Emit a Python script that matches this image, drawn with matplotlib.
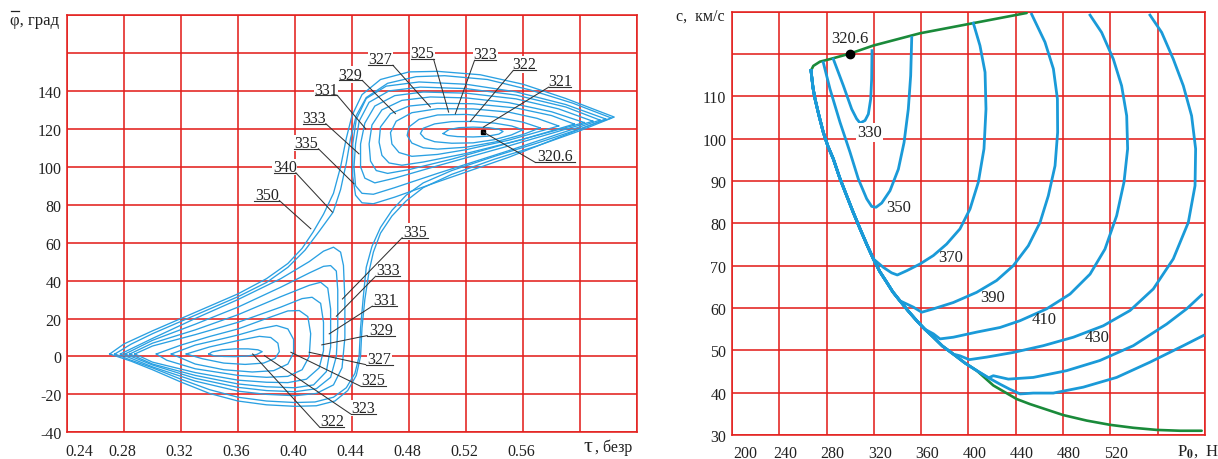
import numpy as np
import matplotlib
matplotlib.use("Agg")
import matplotlib.pyplot as plt
from matplotlib.transforms import ScaledTranslation
from matplotlib.lines import Line2D

plt.rcParams['font.family'] = ['Liberation Serif', 'DejaVu Serif']
plt.rcParams['mathtext.fontset'] = 'stix'

RED = "#e3211e"
BLUE_L = "#2aa0e2"
BLUE_R = "#1a9ad8"
GREEN = "#1a8a3a"

# ---------------- left chart: contour lines (tau, phi) ----------------
# lower basin
low322 = [(0.3395, 1.3), (0.343, 0.4), (0.350, 0.0), (0.358, -0.1), (0.366, 0.2), (0.373, 1.0), (0.377, 2.5),
          (0.374, 3.5), (0.367, 4.0), (0.358, 4.0), (0.349, 3.5), (0.342, 2.4), (0.3395, 1.3)]
low323 = [(0.3237, 1.3), (0.34, 5.0), (0.36, 8.4), (0.375, 10.6), (0.383, 10.0), (0.388, 7.0), (0.389, 2.5),
          (0.386, -1.0), (0.378, -3.5), (0.365, -4.2), (0.35, -3.5), (0.335, -1.2), (0.3237, 1.3)]
low325 = [(0.3132, 1.3), (0.33, 6.0), (0.35, 9.5), (0.36, 11.3), (0.375, 14.5), (0.387, 16.3), (0.395, 14.5),
          (0.399, 9.0), (0.399, 2.0), (0.395, -4.0), (0.385, -7.5), (0.37, -8.2), (0.35, -7.0), (0.33, -4.0),
          (0.3132, 1.3)]
low327 = [(0.3027, 1.3), (0.32, 6.0), (0.34, 10.5), (0.36, 14.5), (0.38, 20.0), (0.395, 24.0), (0.403, 24.2),
          (0.409, 21.0), (0.411, 12.0), (0.410, 0.0), (0.405, -7.0), (0.395, -10.5), (0.38, -11.0),
          (0.36, -10.0), (0.33, -6.5), (0.31, -2.0), (0.3027, 1.3)]
low329 = [(0.2876, 1.3), (0.30, 5.5), (0.33, 11.5), (0.36, 18.0), (0.39, 26.0), (0.405, 30.5), (0.412, 31.2),
          (0.418, 28.0), (0.420, 18.0), (0.420, 3.0), (0.417, -6.0), (0.408, -12.0), (0.395, -13.8),
          (0.38, -13.6), (0.36, -12.5), (0.33, -8.5), (0.30, -3.0), (0.2876, 1.3)]
low331 = [(0.2841, 1.3), (0.30, 7.0), (0.33, 14.0), (0.36, 22.0), (0.39, 31.5), (0.41, 37.5), (0.418, 39.1),
          (0.423, 36.0), (0.425, 25.0), (0.425, 5.0), (0.422, -8.0), (0.413, -15.0), (0.40, -16.5),
          (0.38, -16.0), (0.36, -14.5), (0.33, -10.0), (0.30, -4.0), (0.2841, 1.3)]
low333 = [(0.2808, 1.3), (0.30, 8.5), (0.33, 17.0), (0.36, 26.0), (0.39, 36.5), (0.41, 44.0), (0.42, 47.5),
          (0.425, 47.9), (0.429, 45.0), (0.430, 35.0), (0.430, 15.0), (0.429, 0.0), (0.425, -11.0),
          (0.415, -17.0), (0.40, -18.6), (0.38, -18.0), (0.36, -16.3), (0.33, -11.5), (0.30, -4.5),
          (0.2808, 1.3)]
low335 = [(0.2775, 1.3), (0.30, 9.5), (0.33, 20.0), (0.36, 30.0), (0.39, 41.0), (0.41, 50.0), (0.42, 55.5),
          (0.427, 57.6), (0.432, 55.0), (0.434, 48.0), (0.435, 30.0), (0.435, 10.0), (0.433, -6.0),
          (0.427, -15.0), (0.415, -19.5), (0.40, -20.7), (0.38, -20.0), (0.36, -18.3), (0.33, -13.0),
          (0.30, -5.5), (0.2775, 1.3)]
# upper basin
up321 = [(0.504, 117.5), (0.508, 119.6), (0.515, 120.6), (0.525, 120.9), (0.536, 120.6), (0.543, 119.8),
         (0.546, 118.6), (0.543, 117.2), (0.535, 116.1), (0.525, 115.7), (0.514, 115.9), (0.507, 116.5),
         (0.504, 117.5)]
up322 = [(0.560, 119.5), (0.552, 121.5), (0.54, 123.0), (0.525, 123.9), (0.51, 123.8), (0.498, 122.6),
         (0.490, 120.3), (0.488, 117.5), (0.491, 115.0), (0.498, 113.2), (0.51, 112.4), (0.525, 112.6),
         (0.54, 114.3), (0.552, 116.8), (0.560, 119.5)]
up323 = [(0.572, 120.5), (0.56, 123.5), (0.54, 126.3), (0.52, 127.6), (0.50, 127.3), (0.487, 125.0),
         (0.480, 121.0), (0.4787, 116.5), (0.482, 112.5), (0.49, 110.0), (0.50, 109.3), (0.52, 110.3),
         (0.54, 113.0), (0.56, 117.0), (0.572, 120.5)]
up325 = [(0.585, 121.5), (0.57, 125.5), (0.55, 128.8), (0.525, 130.5), (0.50, 130.6), (0.482, 128.5),
         (0.471, 124.0), (0.467, 118.0), (0.468, 112.0), (0.473, 107.5), (0.482, 105.5), (0.50, 106.5),
         (0.52, 109.0), (0.55, 114.0), (0.585, 121.5)]
up327 = [(0.596, 122.5), (0.58, 127.0), (0.555, 131.0), (0.525, 133.2), (0.50, 133.5), (0.48, 132.0),
         (0.467, 128.0), (0.460, 121.0), (0.459, 113.0), (0.461, 106.0), (0.466, 102.0), (0.475, 100.8),
         (0.49, 102.5), (0.52, 107.0), (0.56, 114.5), (0.596, 122.5)]
up329 = [(0.603, 123.3), (0.58, 129.0), (0.55, 133.8), (0.52, 136.3), (0.495, 136.8), (0.475, 135.0),
         (0.461, 130.0), (0.454, 122.0), (0.452, 112.0), (0.453, 103.0), (0.457, 98.0), (0.465, 96.5),
         (0.48, 98.5), (0.51, 104.0), (0.55, 112.5), (0.603, 123.3)]
up331 = [(0.609, 124.0), (0.585, 130.5), (0.555, 135.8), (0.52, 138.8), (0.49, 139.4), (0.47, 137.5),
         (0.456, 132.0), (0.449, 123.0), (0.446, 112.0), (0.446, 100.0), (0.449, 94.0), (0.456, 91.5),
         (0.47, 94.0), (0.50, 100.5), (0.55, 111.0), (0.609, 124.0)]
up333 = [(0.614, 124.6), (0.59, 131.5), (0.555, 137.8), (0.52, 141.2), (0.488, 142.0), (0.466, 140.0),
         (0.452, 134.0), (0.445, 124.0), (0.4425, 112.0), (0.4414, 100.0), (0.4425, 90.0), (0.447, 86.0),
         (0.455, 85.5), (0.47, 89.0), (0.50, 96.5), (0.55, 108.5), (0.614, 124.6)]
up335 = [(0.618, 125.2), (0.59, 132.8), (0.555, 139.5), (0.52, 143.5), (0.487, 144.7), (0.464, 142.5),
         (0.45, 136.0), (0.443, 125.0), (0.4405, 112.0), (0.4405, 95.0), (0.4425, 85.0), (0.447, 81.0),
         (0.455, 80.5), (0.47, 84.0), (0.50, 92.0), (0.55, 105.0), (0.618, 125.2)]
# outer S-shaped contours
full340 = [(0.2736, 1.3), (0.285, 6.5), (0.30, 12.0), (0.32, 18.5), (0.34, 25.0), (0.36, 31.5), (0.38, 39.0),
           (0.395, 47.0), (0.407, 56.0), (0.417, 66.0), (0.4267, 76.0), (0.432, 88.0), (0.436, 102.0),
           (0.439, 115.0), (0.443, 127.0), (0.45, 136.5), (0.465, 144.0), (0.485, 147.5), (0.505, 148.0),
           (0.535, 146.0), (0.565, 140.5), (0.595, 133.5), (0.622, 125.7), (0.60, 120.0), (0.57, 112.5),
           (0.54, 105.5), (0.51, 98.0), (0.49, 91.5), (0.478, 85.0), (0.468, 77.0), (0.46, 68.0),
           (0.454, 58.0), (0.45, 47.0), (0.448, 32.0), (0.446, 15.0), (0.445, 0.0), (0.442, -9.0),
           (0.436, -16.5), (0.427, -21.5), (0.414, -24.0), (0.40, -24.3), (0.38, -23.5), (0.36, -21.5),
           (0.34, -17.5), (0.32, -12.0), (0.30, -6.0), (0.285, -2.0), (0.2736, 1.3)]
full350 = [(0.270, 1.3), (0.28, 6.6), (0.30, 13.5), (0.32, 20.0), (0.34, 26.5), (0.36, 33.0), (0.38, 41.0),
           (0.395, 49.0), (0.405, 57.0), (0.4127, 65.6), (0.42, 75.0), (0.427, 86.0), (0.432, 100.0),
           (0.436, 115.0), (0.44, 127.0), (0.447, 138.0), (0.46, 146.0), (0.48, 150.0), (0.50, 150.3),
           (0.53, 148.5), (0.56, 143.5), (0.59, 136.0), (0.624, 126.2), (0.60, 119.0), (0.57, 111.0),
           (0.54, 104.0), (0.51, 96.0), (0.49, 89.0), (0.478, 82.0), (0.468, 74.0), (0.46, 65.0),
           (0.455, 55.0), (0.452, 45.0), (0.449, 30.0), (0.447, 15.0), (0.446, 0.0), (0.443, -10.0),
           (0.437, -18.0), (0.428, -23.5), (0.415, -26.0), (0.40, -26.3), (0.38, -25.5), (0.36, -23.5),
           (0.34, -19.5), (0.32, -13.5), (0.30, -7.0), (0.285, -2.5), (0.270, 1.3)]

left_contours = [low322, low323, low325, low327, low329, low331, low333, low335,
                 up321, up322, up323, up325, up327, up329, up331, up333, up335, full340, full350]
min_point = (0.5322, 118.3)

# label text, underline start, underline end, underline phi, leader side, target tau, target phi
left_labels = [
    ("327", 0.4514, 0.4687, 153.5, "R", 0.495, 131.5),
    ("325", 0.4817, 0.4973, 156.6, "R", 0.5078, 128.8),
    ("323", 0.5260, 0.5411, 156.1, "L", 0.5125, 127.9),
    ("322", 0.5532, 0.5688, 150.8, "L", 0.5230, 123.9),
    ("321", 0.5781, 0.5940, 142.0, "L", 0.5322, 120.9),
    ("320.6", 0.5684, 0.5963, 102.4, "L", 0.5322, 118.3),
    ("329", 0.4309, 0.4472, 145.5, "R", 0.4705, 128.0),
    ("331", 0.4141, 0.4297, 137.6, "R", 0.4496, 120.0),
    ("333", 0.4053, 0.4216, 122.7, "R", 0.4449, 106.8),
    ("335", 0.3994, 0.4164, 109.5, "R", 0.4414, 91.0),
    ("340", 0.3850, 0.4006, 96.8, "R", 0.4262, 76.1),
    ("350", 0.3715, 0.3890, 82.2, "R", 0.4111, 67.3),
    ("335", 0.4752, 0.4930, 62.6, "L", 0.4333, 30.3),
    ("333", 0.4566, 0.4740, 42.3, "L", 0.4290, 21.2),
    ("331", 0.4542, 0.4717, 26.5, "L", 0.4240, 11.9),
    ("329", 0.4507, 0.4705, 11.0, "L", 0.4188, 6.1),
    ("327", 0.4496, 0.4689, -4.3, "L", 0.4100, 2.2),
    ("325", 0.4460, 0.4636, -15.7, "L", 0.3971, 2.2),
    ("323", 0.4390, 0.4566, -30.3, "L", 0.3785, 0.45),
    ("322", 0.4174, 0.4344, -37.4, "L", 0.3703, 1.3),
]

tau_ticks = [0.24, 0.28, 0.32, 0.36, 0.40, 0.44, 0.48, 0.52, 0.56, 0.60, 0.64]
tau_labels = ["0.24", "0.28", "0.32", "0.36", "0.40", "0.44", "0.48", "0.52", "0.56", "", ""]
phi_ticks = [-40, -20, 0, 20, 40, 60, 80, 100, 120, 140, 160, 180]
phi_labels = ["-40", "-20", "0", "20", "40", "60", "80", "100", "120", "140", "", ""]

# ---------------- right chart ----------------
env_P = [266.8, 268.5, 270.2, 273.5, 277.2, 281.0, 285.7, 291.0, 297.0, 302.5, 308.3, 314.0, 319.5, 325.0,
         330.8, 336.0, 342.0, 349.0, 356.2, 363.0, 370.3, 378.0, 387.2, 397.0, 407.0, 417.0, 426.7, 435.0,
         443.6]
env_c = [116.1, 112.0, 109.4, 105.5, 101.5, 98.3, 95.2, 90.8, 86.5, 82.6, 78.7, 75.0, 71.6, 68.6,
         66.1, 63.8, 61.7, 59.3, 57.0, 55.0, 53.1, 51.0, 49.1, 47.0, 45.2, 43.5, 42.0, 40.8, 39.7]

c330_P = [285.7, 294.2, 301.2, 305.4, 308.3, 312.5, 315.3, 317.3, 318.1, 318.4]
c330_c = [118.8, 112.5, 107.0, 104.7, 103.7, 104.3, 105.8, 109.4, 114.1, 120.8]
c350_P = [277.2, 282.9, 291.3, 299.8, 306.8, 313.9, 318.1, 321.8, 326.6, 333.6, 340.7, 345.5, 349.1, 351.1, 352.0]
c350_c = [118.0, 111.7, 103.9, 96.8, 90.5, 85.8, 84.0, 83.8, 84.8, 87.7, 92.8, 99.1, 107.0, 114.9, 123.9]
c370_P = [328.0, 335.0, 339.8, 347.7, 359.0, 370.3, 381.5, 392.8, 401.3, 408.3, 413.1, 414.8, 414.0, 409.7, 404.1]
c370_c = [69.6, 68.3, 67.8, 68.8, 70.4, 72.4, 75.1, 78.7, 83.4, 89.7, 97.6, 107.0, 115.7, 122.0, 127.3]
c390_P = [353.4, 360.4, 370.3, 387.2, 406.9, 423.8, 437.9, 450.6, 460.5, 467.5, 473.2, 475.4, 475.2, 471.8,
          464.7, 453.4]
c390_c = [60.2, 59.0, 59.8, 61.3, 63.7, 66.5, 70.0, 74.7, 80.2, 86.5, 93.6, 101.5, 109.4, 116.5, 122.8, 129.4]
c410_P = [370.3, 375.9, 387.2, 406.9, 426.7, 443.6, 466.1, 485.9, 502.8, 515.4, 525.3, 531.5, 534.6, 533.8,
          529.5, 522.5, 512.6, 502.8]
c410_c = [53.9, 52.7, 53.1, 54.3, 55.4, 57.0, 59.8, 63.3, 68.0, 73.9, 81.8, 89.7, 97.6, 105.4, 112.5, 118.8,
          125.1, 129.2]
c430_P = [392.8, 400.7, 415.4, 437.9, 463.3, 488.7, 514.0, 536.6, 556.3, 573.2, 585.9, 591.6, 592.1, 588.7,
          581.7, 573.2, 563.4, 553.5]
c430_c = [48.7, 47.8, 48.4, 49.5, 51.1, 53.1, 55.8, 59.4, 64.5, 71.6, 80.2, 88.9, 97.6, 105.4, 112.5, 118.8,
          125.1, 129.2]
c450_P = [421.0, 433.7, 454.8, 483.0, 511.2, 539.4, 567.6, 584.5, 597.2]
c450_c = [44.0, 43.2, 43.6, 45.2, 47.6, 51.1, 56.2, 59.8, 63.1]
c470_P = [454.8, 471.7, 497.1, 525.3, 553.5, 581.7, 598.6]
c470_c = [39.9, 39.9, 41.3, 43.6, 47.2, 51.1, 53.5]
# number of envelope points each curve follows before leaving it
env_count = {"370": 13, "390": 17, "410": 20, "430": 23, "450": 26, "470": 29}

green_top_P = [449.2, 404.1, 359.0, 319.5, 299.8, 282.9, 274.4, 268.8, 266.8]
green_top_c = [129.7, 127.3, 124.9, 122.0, 120.1, 118.8, 118.2, 117.2, 116.1]
green_tail_P = [421.0, 440.7, 452.0, 480.2, 500.0, 519.7, 539.4, 559.1, 578.9, 597.2]
green_tail_c = [41.7, 38.5, 37.3, 34.7, 33.4, 32.4, 31.7, 31.2, 31.0, 31.0]
opt_point = (299.8, 120.0)

right_labels = [("320.6", 299.8, 123.7), ("330", 316.1, 101.5), ("350", 340.7, 83.8), ("370", 385.0, 72.0),
                ("390", 420.2, 62.7), ("410", 463.9, 57.4), ("430", 508.4, 53.1)]

P_ticks = [200, 240, 280, 320, 360, 400, 440, 480, 520, 560, 600]
P_labels = ["200", "240", "280", "320", "360", "400", "440", "480", "520", "", ""]
c_ticks = [30, 40, 50, 60, 70, 80, 90, 100, 110, 120, 130]
c_labels = ["30", "40", "50", "60", "70", "80", "90", "100", "110", "", ""]

# ---------------- figure ----------------
fig = plt.figure(figsize=(12.18, 4.6), dpi=100)
axL = fig.add_axes([0.0550, 0.0580, 0.4680, 0.9072])
axR = fig.add_axes([0.6010, 0.0522, 0.3883, 0.9202])

for ax in (axL, axR):
    ax.grid(True, color=RED, lw=1.15, zorder=0)
    ax.set_axisbelow(True)
    for s in ax.spines.values():
        s.set_color(RED)
        s.set_linewidth(1.15)
    ax.tick_params(length=0, labelsize=11.5, colors="#222222")

# left
axL.set_xlim(0.24, 0.64)
axL.set_ylim(-40, 180)
axL.set_xticks(tau_ticks, labels=tau_labels)
axL.set_yticks(phi_ticks, labels=phi_labels)
axL.tick_params(axis="x", pad=8)
axL.tick_params(axis="y", pad=4)
for lab in axL.get_xticklabels():
    dx = 12 if lab.get_text() == "0.24" else -2
    lab.set_transform(lab.get_transform() + ScaledTranslation(dx / 100, 0, fig.dpi_scale_trans))

for cont in left_contours:
    t, p = zip(*cont)
    axL.plot(t, p, color=BLUE_L, lw=0.95, zorder=2)
axL.plot([min_point[0]], [min_point[1]], marker="s", ms=3, color="black", zorder=6)

for txt, x0, x1, yu, side, tx, ty in left_labels:
    axL.plot([x0, x1], [yu, yu], color="#333333", lw=0.8, zorder=6)
    sx = x0 if side == "L" else x1
    axL.plot([sx, tx], [yu, ty], color="#333333", lw=0.75, zorder=6)
    axL.text((x0 + x1) / 2, yu + 1.0, txt, ha="center", va="baseline", fontsize=11.5, color="#222222",
             zorder=5, bbox=dict(facecolor="white", edgecolor="none", pad=0.2))

fig.text(10 / 1218, 1 - 25 / 460, "φ, град", ha="left", va="baseline", fontsize=12, color="#222222")
fig.add_artist(Line2D([10.5 / 1218, 18.5 / 1218], [1 - 11.5 / 460, 1 - 11.5 / 460],
                      transform=fig.transFigure, color="#222222", lw=0.9))
fig.text(583 / 1218, 1 - 452 / 460, "τ", ha="left", va="baseline", fontsize=16, color="#222222")
fig.text(595 / 1218, 1 - 452 / 460, ", безр", ha="left", va="baseline", fontsize=11.5, color="#222222")

# right
axR.set_xlim(200, 600)
axR.set_ylim(30, 130)
axR.set_xticks(P_ticks, labels=P_labels)
axR.set_yticks(c_ticks, labels=c_labels)
axR.tick_params(axis="x", pad=7)
axR.tick_params(axis="y", pad=4)
for lab in axR.get_xticklabels():
    dx = 13 if lab.get_text() == "200" else 6
    lab.set_transform(lab.get_transform() + ScaledTranslation(dx / 100, 0, fig.dpi_scale_trans))

# green boundary
gP = green_top_P + env_P[1:25] + green_tail_P
gc = green_top_c + env_c[1:25] + green_tail_c
axR.plot(gP, gc, color=GREEN, lw=1.9, zorder=3, solid_capstyle="round")

axR.plot(c330_P, c330_c, color=BLUE_R, lw=2.0, zorder=4)
axR.plot(c350_P, c350_c, color=BLUE_R, lw=2.0, zorder=4)
for key, P, c in [("370", c370_P, c370_c), ("390", c390_P, c390_c), ("410", c410_P, c410_c),
                  ("430", c430_P, c430_c), ("450", c450_P, c450_c), ("470", c470_P, c470_c)]:
    n = env_count[key]
    axR.plot(env_P[:n] + P, env_c[:n] + c, color=BLUE_R, lw=2.0, zorder=4)

axR.plot([opt_point[0]], [opt_point[1]], marker="o", ms=6, color="black", zorder=6)
for txt, x, y in right_labels:
    kw = dict(bbox=dict(facecolor="white", edgecolor="none", pad=1.0)) if txt == "330" else {}
    axR.text(x, y, txt, ha="center", va="center", fontsize=12, color="#222222", zorder=5, **kw)

fig.text(725 / 1218, 1 - 21 / 460, "c,  км/с", ha="right", va="baseline", fontsize=11.5, color="#222222")
fig.text(1177 / 1218, 1 - 456 / 460, r"P$_{\mathbf{0}}$,  Н", ha="left", va="baseline", fontsize=12,
         color="#222222")

fig.savefig("out.png", dpi=100)
